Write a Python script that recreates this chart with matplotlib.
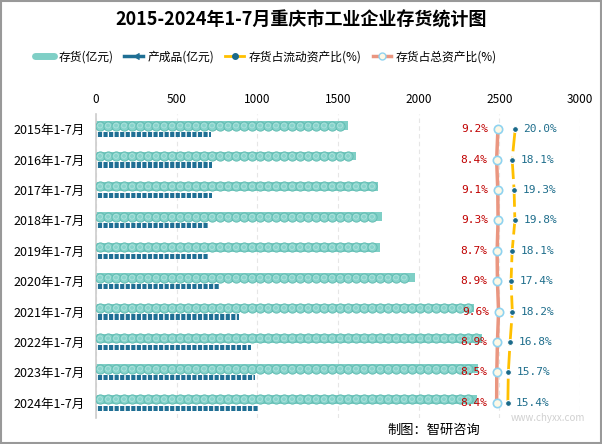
import numpy as np
import matplotlib.pyplot as plt
from matplotlib.lines import Line2D
from matplotlib.patches import Rectangle

plt.rcParams['font.family'] = ['Noto Sans CJK SC', 'DejaVu Sans']

# data
years = ['2015年1-7月', '2016年1-7月', '2017年1-7月', '2018年1-7月', '2019年1-7月',
         '2020年1-7月', '2021年1-7月', '2022年1-7月', '2023年1-7月', '2024年1-7月']
stock = [1562, 1612, 1748, 1773, 1761, 1978, 2343, 2393, 2368, 2362]
product = [713, 720, 720, 694, 700, 763, 887, 961, 986, 1004]
ratio_flow = [20.0, 18.1, 19.3, 19.8, 18.1, 17.4, 18.2, 16.8, 15.7, 15.4]
ratio_total = [9.2, 8.4, 9.1, 9.3, 8.7, 8.9, 9.6, 8.9, 8.5, 8.4]

fig = plt.figure(figsize=(6.02, 4.44), dpi=100)
ax = fig.add_axes([96/602, 1-418/444, 484/602, 304/444])

y = np.arange(len(years))
teal = '#7fcfc6'
blue = '#1f6f94'

# stock bars drawn as a band of circles
ax.barh(y - 0.12, stock, height=0.29, color=teal, linewidth=0, zorder=2)
step = 3000 / 484 * 8.0
for yi, v in zip(y, stock):
    xs = np.arange(step / 2, v - step / 2 + 1, step)
    ax.scatter(xs, np.full(len(xs), yi - 0.12), s=44, marker='o', facecolor='#86d3cb',
               edgecolor='#63bdb3', linewidth=0.7, zorder=3)
    ax.scatter(xs, np.full(len(xs), yi - 0.12), s=12, marker='o', facecolor='none',
               edgecolor='#aee2dc', linewidth=0.6, zorder=4)

# finished products
ax.barh(y + 0.18, product, height=0.17, color=blue, linewidth=0,
        hatch='|||', edgecolor='white', zorder=2)

ax.set_ylim(len(years) - 0.5, -0.5)
ax.set_yticks(y)
ax.set_yticklabels(years, fontsize=9)
ax.tick_params(axis='y', length=0, pad=8)
ax.grid(axis='x', color='#e6e6e6', linestyle=(0, (4, 3)), linewidth=0.8, zorder=0)
for s in ['top', 'right', 'bottom']:
    ax.spines[s].set_visible(False)
ax.spines['left'].set_color('#cccccc')
ax.spines['left'].set_linewidth(1.2)

# ratio lines on a secondary axis
ax2 = ax.twiny()
ax2.set_xlim(-242, 60.5)
ax2.set_ylim(len(years) - 0.5, -0.5)
ax2.axis('off')

ax.set_xlim(0, 3000)
ax.set_xticks(np.arange(0, 3001, 500))
ax.xaxis.tick_top()
ax.tick_params(axis='x', length=0, labelsize=8.5, pad=6, labeltop=True, labelbottom=False)

ax2.plot(ratio_total, y, color='#ea9680', linewidth=2.5, marker='o', markersize=6,
         markerfacecolor='#fdf8e6', markeredgecolor='#8fd3f0', markeredgewidth=1.2, zorder=3)
ax2.plot(ratio_flow, y, color='#ffc000', linewidth=2, linestyle=(0, (8, 2)), zorder=3)
ax2.plot(ratio_flow, y, linestyle='none', marker='o', markersize=4.2,
         markerfacecolor='#1b6a8a', markeredgecolor='white', markeredgewidth=0.8, zorder=4)
for yi, a, b in zip(y, ratio_total, ratio_flow):
    ax2.annotate(f'{a:.1f}%', (a, yi), xytext=(-7, 0), textcoords='offset points',
                 ha='right', va='center', color='#c00000', fontsize=8,
                 family='DejaVu Sans Mono')
    ax2.annotate(f'{b:.1f}%', (b, yi), xytext=(6, 0), textcoords='offset points',
                 ha='left', va='center', color='#1f6e8c', fontsize=8,
                 family='DejaVu Sans Mono')

fig.text(0.5, 1 - 20/444, '2015-2024年1-7月重庆市工业企业存货统计图', ha='center', va='center',
         fontsize=13, fontweight='bold')

handles = [
    Line2D([], [], color=teal, linewidth=5, solid_capstyle='round'),
    Line2D([], [], color=blue, linewidth=2.5, marker=4, markersize=5),
    Line2D([], [], color='#ffc000', linewidth=2, marker='o', markersize=4,
           markerfacecolor='#1b6a8a', markeredgecolor='#1b6a8a'),
    Line2D([], [], color='#ea9680', linewidth=2.5, marker='o', markersize=5,
           markerfacecolor='#fdf8e6', markeredgecolor='#8fd3f0'),
]
labels = ['存货(亿元)', '产成品(亿元)', '存货占流动资产比(%)', '存货占总资产比(%)']
fig.legend(handles, labels, loc='center', bbox_to_anchor=(266/602, 1 - 57/444), ncol=4,
           frameon=False, fontsize=8.5, handlelength=1.6, handletextpad=0.35,
           columnspacing=0.95)

fig.text(480/602, 1 - 430/444, '制图：智研咨询', ha='right', va='center', fontsize=9.5)
fig.text(585/602, 1 - 418/444, 'www.chyxx.com', ha='right', va='center',
         fontsize=7, color='#d0d0d0')

fig.patches.append(Rectangle((0.001, 0.002), 0.997, 0.996, transform=fig.transFigure,
                             fill=False, edgecolor='#999999', linewidth=1.5))

fig.savefig('out.png', dpi=100)
